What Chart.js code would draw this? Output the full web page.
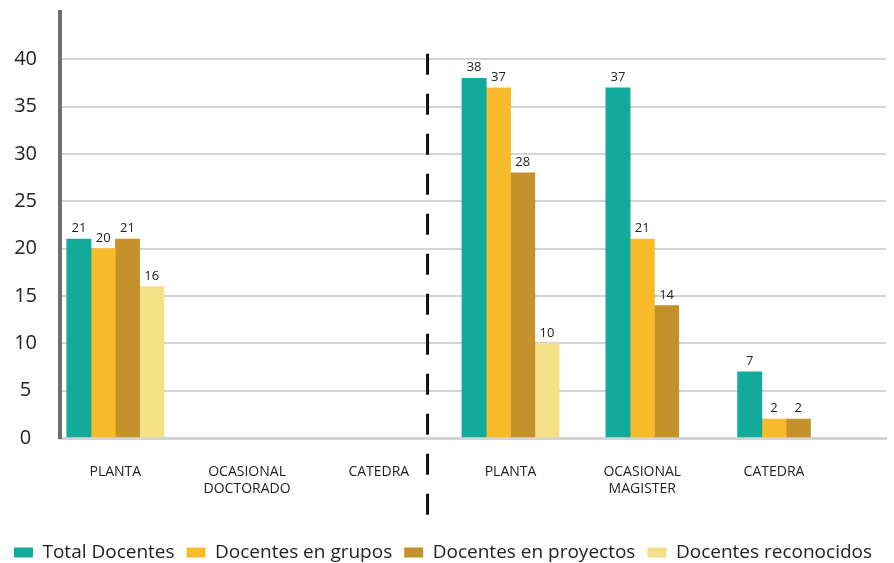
<!DOCTYPE html>
<html><head><meta charset="utf-8">
<script src="https://cdn.jsdelivr.net/npm/chart.js@4.4.0/dist/chart.umd.min.js"></script>
<style>html,body{margin:0;padding:0;background:#fff;overflow:hidden}#wrap{width:894px;height:563px;position:relative}</style>
</head><body><div id="wrap"><canvas id="c"></canvas></div>
<script>
const categories = [['PLANTA'], ['OCASIONAL', 'DOCTORADO'], ['CATEDRA'], ['PLANTA'], ['OCASIONAL', 'MAGISTER'], ['CATEDRA']];
const seriesNames = ['Total Docentes', 'Docentes en grupos', 'Docentes en proyectos', 'Docentes reconocidos'];
const totalDocentes = [21, null, null, 38, 37, 7];
const docentesGrupos = [20, null, null, 37, 21, 2];
const docentesProyectos = [21, null, null, 28, 14, 2];
const docentesReconocidos = [16, null, null, 10, null, null];
const yTicks = [0, 5, 10, 15, 20, 25, 30, 35, 40];
const dividerAt = 2.37;

const colors = ['#12ab9b', '#f8bc2b', '#c5912a', '#f4e086'];
const FONT = "'Open Sans', sans-serif";

const valueLabels = {
  id: 'valueLabels',
  afterDatasetsDraw(chart) {
    const ctx = chart.ctx;
    ctx.save();
    ctx.font = "13px " + FONT;
    ctx.fillStyle = '#222';
    ctx.textAlign = 'center';
    ctx.textBaseline = 'bottom';
    chart.data.datasets.forEach((ds, di) => {
      const meta = chart.getDatasetMeta(di);
      meta.data.forEach((bar, i) => {
        const v = ds.data[i];
        if (v === null || v === undefined) return;
        ctx.fillText(String(v), bar.x, bar.y - 4);
      });
    });
    ctx.restore();
  }
};

const divider = {
  id: 'divider',
  afterDraw(chart) {
    const ctx = chart.ctx;
    const x = chart.scales.x.getPixelForValue(dividerAt);
    const yTop = chart.scales.y.getPixelForValue(40.6);
    ctx.save();
    ctx.strokeStyle = '#111';
    ctx.lineWidth = 3;
    ctx.setLineDash([21, 19]);
    ctx.beginPath();
    ctx.moveTo(x, yTop);
    ctx.lineTo(x, 518);
    ctx.stroke();
    ctx.restore();
  }
};

const legendShift = {
  id: 'legendShift',
  afterLayout(chart) {
    if (chart.legend) { chart.legend.top += 9; chart.legend.bottom += 9; }
  }
};

const datasets = [totalDocentes, docentesGrupos, docentesProyectos, docentesReconocidos].map((arr, i) => ({
  label: seriesNames[i],
  data: arr,
  backgroundColor: colors[i],
  borderWidth: 0,
  barThickness: 24.3
}));

new Chart(document.getElementById('c'), {
  type: 'bar',
  data: { labels: categories.map((_, i) => i), datasets },
  plugins: [valueLabels, divider, legendShift],
  options: {
    responsive: true,
    maintainAspectRatio: false,
    animation: false,
    skipNull: true,
    layout: { padding: { left: 0, right: 8, top: 12, bottom: 0 } },
    scales: {
      x: {
        type: 'linear',
        offset: false,
        min: -0.42,
        max: 5.85,
        afterBuildTicks: (axis) => { axis.ticks = categories.map((_, i) => ({ value: i })); },
        afterFit: (axis) => { axis.height = 84; },
        ticks: {
          callback: (v) => categories[v],
          font: { family: FONT, size: 14 },
          color: '#222',
          padding: 26,
          maxRotation: 0,
          autoSkip: false
        },
        grid: { display: false, drawTicks: false },
        border: { display: true, color: '#d4d4d4', width: 3 }
      },
      y: {
        min: 0,
        max: 45,
        afterBuildTicks: (axis) => { axis.ticks = yTicks.map(v => ({ value: v })); },
        afterFit: (axis) => { axis.width = 60; axis.paddingTop = 0; axis.paddingBottom = 0; },
        ticks: {
          font: { family: FONT, size: 20 },
          color: '#222',
          crossAlign: 'center',
          padding: 23
        },
        grid: { color: '#d4d4d4', lineWidth: 2, drawTicks: false },
        border: { display: true, color: '#6e6e6e', width: 4 }
      }
    },
    plugins: {
      legend: {
        position: 'bottom',
        labels: {
          boxWidth: 19,
          boxHeight: 10,
          padding: 12,
          color: '#222',
          font: { family: FONT, size: 19 }
        }
      },
      tooltip: { enabled: false }
    }
  }
});
</script></body></html>
